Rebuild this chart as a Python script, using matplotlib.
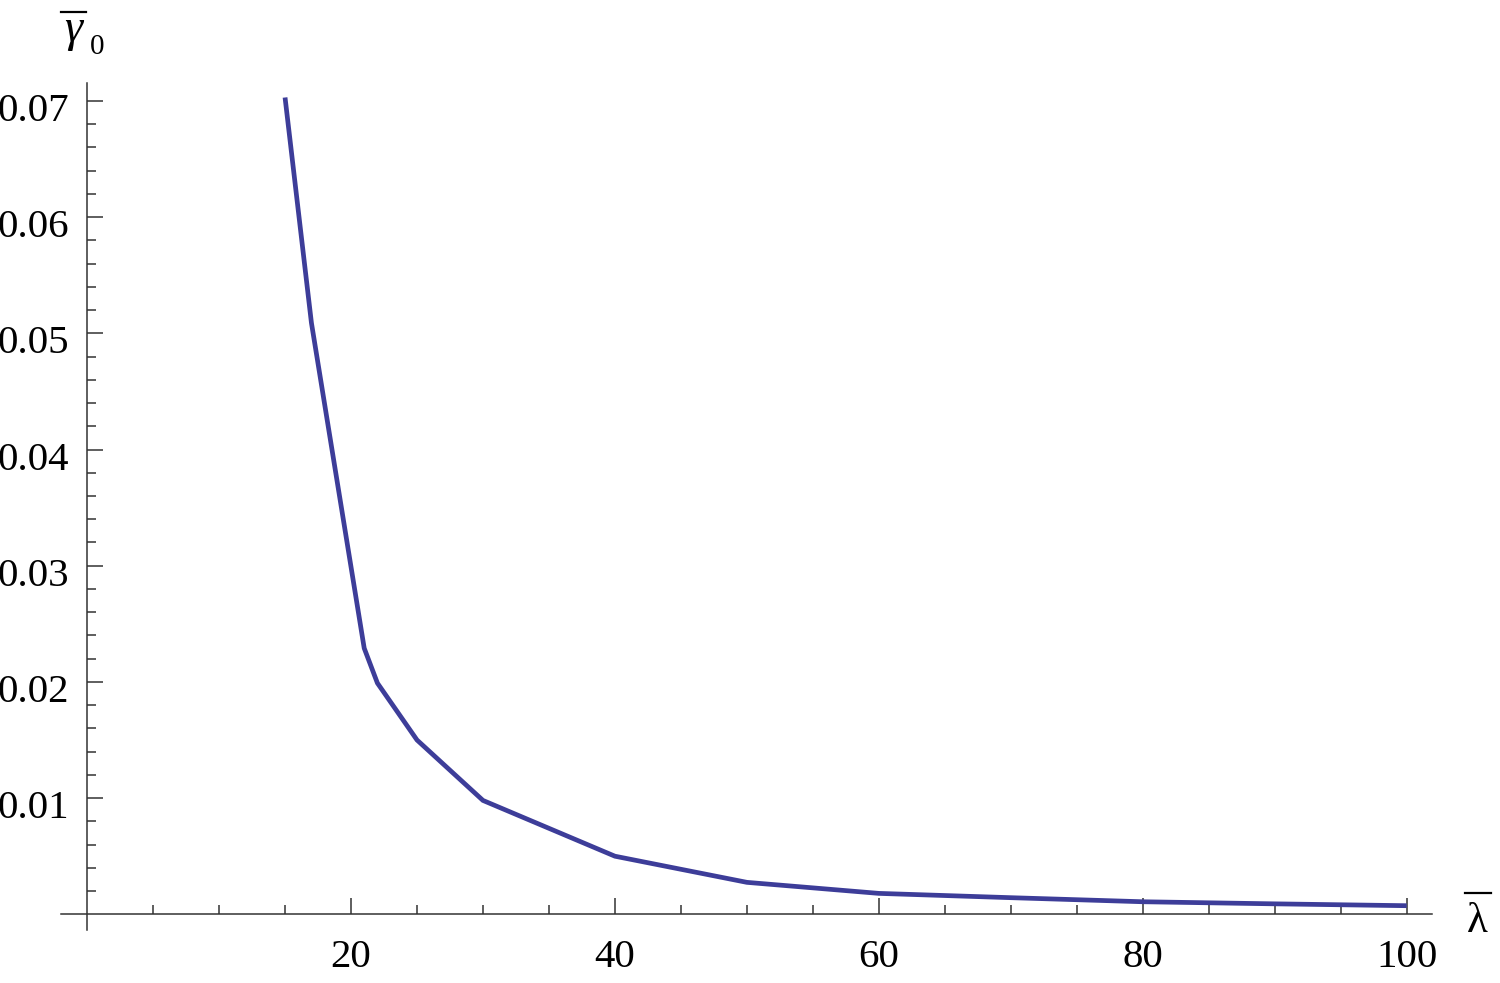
import matplotlib
matplotlib.use("Agg")
import matplotlib.pyplot as plt
from matplotlib.ticker import FixedLocator
from matplotlib.transforms import ScaledTranslation
from matplotlib.lines import Line2D

# Data
lam = [15, 17, 21, 22, 25, 30, 40, 50, 60, 70, 80, 90, 100]
gamma0 = [0.0703, 0.0509, 0.0229, 0.0199, 0.0150, 0.0098, 0.0050,
          0.00275, 0.0018, 0.00143, 0.00108, 0.0009, 0.00074]
x_major = [20, 40, 60, 80, 100]
y_major = [0.01, 0.02, 0.03, 0.04, 0.05, 0.06, 0.07]
y_labels = ["0.01", "0.02", "0.03", "0.04", "0.05", "0.06", "0.07"]

plt.rcParams['font.family'] = ['Liberation Serif', 'DejaVu Serif']

W, H, DPI = 1500, 983, 100
fig = plt.figure(figsize=(W / DPI, H / DPI), dpi=DPI)
ax = fig.add_axes([0, 0, 1, 1])
ax.patch.set_alpha(0)

# pixel mapping: x=0 at px 87.1, 13.196 px/unit ; y=0 at px 914.3 (from top), 11619 px/unit
x0, sx = 87.1, 13.196
y0, sy = 914.3, 11619.0
ax.set_xlim(-x0 / sx, (W - x0) / sx)
ax.set_ylim(-(H - y0) / sy, y0 / sy)

axis_col = '#333333'
for s in ['top', 'right']:
    ax.spines[s].set_visible(False)
ax.spines['left'].set_position(('data', 0))
ax.spines['bottom'].set_position(('data', 0))
ax.spines['left'].set_bounds((y0 - 930) / sy, (y0 - 83) / sy)
ax.spines['bottom'].set_bounds((61 - x0) / sx, (1432 - x0) / sx)
for s in ['left', 'bottom']:
    ax.spines[s].set_color(axis_col)
    ax.spines[s].set_linewidth(1.1)

ax.xaxis.set_major_locator(FixedLocator(x_major))
ax.xaxis.set_minor_locator(FixedLocator([v for v in range(5, 101, 5) if v % 20]))
ax.yaxis.set_major_locator(FixedLocator(y_major))
ax.yaxis.set_minor_locator(FixedLocator([i * 0.002 for i in range(1, 36) if i % 5]))
ax.set_yticklabels(y_labels)

ax.tick_params(axis='both', which='both', direction='in', color=axis_col, width=1.1,
               labelsize=29.5, labelcolor='black')
ax.tick_params(axis='both', which='major', length=11.5)
ax.tick_params(axis='both', which='minor', length=6.8)
ax.tick_params(axis='x', which='major', pad=18)
ax.tick_params(axis='y', which='major', pad=13)

off = ScaledTranslation(0, -6 / 100, fig.dpi_scale_trans)
for lab in ax.get_yticklabels():
    lab.set_transform(lab.get_transform() + off)

ax.plot(lam, gamma0, color='#3d3d99', linewidth=3.4, solid_joinstyle='miter',
        solid_capstyle='butt', zorder=3, clip_on=False)


def fx(px):
    return px / W


def fy(py):
    return 1 - py / H


# axis labels: gamma-bar with subscript 0 (top left), lambda-bar (right)
fig.text(fx(73), fy(41), 'γ', style='italic', ha='center', va='baseline', fontsize=33)
fig.text(fx(90), fy(54), '0', ha='left', va='baseline', fontsize=21)
fig.add_artist(Line2D([fx(61), fx(86)], [fy(12), fy(12)], color='black', lw=1.6,
                      transform=fig.transFigure))
fig.text(fx(1477), fy(932), 'λ', ha='center', va='baseline', fontsize=31)
fig.add_artist(Line2D([fx(1465), fx(1491)], [fy(893), fy(893)], color='black', lw=1.6,
                      transform=fig.transFigure))

fig.savefig('out.png', dpi=DPI)
